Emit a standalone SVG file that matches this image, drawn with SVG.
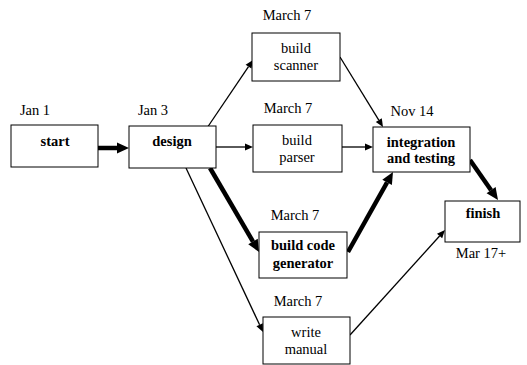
<svg xmlns="http://www.w3.org/2000/svg" width="527" height="365" viewBox="0 0 527 365" font-family="Liberation Serif, Times New Roman, DejaVu Serif, serif">
<style>
text{font-size:14.5px;fill:#000;text-anchor:middle}
.b{font-weight:bold}
.box{fill:#fff;stroke:#000;stroke-width:1}
.thin{stroke:#000;stroke-width:1.3;fill:none;marker-end:url(#ah)}
.thick{stroke:#000;stroke-width:4.5;fill:none;marker-end:url(#ahb)}
</style>
<defs>
<marker id="ah" markerUnits="userSpaceOnUse" markerWidth="10" markerHeight="10" refX="0" refY="5" viewBox="0 0 10 10" orient="auto" overflow="visible"><path d="M0,1.5 L8,5 L0,8.5 z" fill="#000"/></marker>
<marker id="ahb" markerUnits="userSpaceOnUse" markerWidth="14" markerHeight="14" refX="0" refY="7" viewBox="0 0 14 14" orient="auto" overflow="visible"><path d="M0,1.5 L12,7 L0,12.5 z" fill="#000"/></marker>
</defs>
<rect width="527" height="365" fill="#fff"/>
<g id="connectors">
<line class="thick" x1="98" y1="148" x2="117" y2="148"/>
<line class="thick" x1="210" y1="168" x2="253" y2="241.6"/>
<line class="thick" x1="348" y1="252" x2="387.1" y2="182.4"/>
<line class="thick" x1="470" y1="160" x2="491.1" y2="190.2"/>
<line class="thin" x1="207" y1="128" x2="248.5" y2="66.6"/>
<line class="thin" x1="216" y1="147" x2="245" y2="147"/>
<line class="thin" x1="186" y1="168" x2="259.6" y2="324.8"/>
<line class="thin" x1="340" y1="57" x2="378.8" y2="120.2"/>
<line class="thin" x1="342" y1="147" x2="365" y2="147"/>
<line class="thin" x1="350" y1="335" x2="439.6" y2="236"/>
</g>
<g id="start">
<text x="35" y="115">Jan 1</text>
<rect class="box" x="11" y="125" width="87" height="42"/>
<text class="b" x="55" y="146">start</text>
</g>
<g id="design">
<text x="153" y="115">Jan 3</text>
<rect class="box" x="129" y="126" width="87" height="42"/>
<text class="b" x="172" y="146">design</text>
</g>
<g id="scanner">
<text x="287" y="20">March 7</text>
<rect class="box" x="252" y="33" width="88" height="48"/>
<text x="296" y="53">build</text>
<text x="296" y="70">scanner</text>
</g>
<g id="parser">
<text x="288" y="113">March 7</text>
<rect class="box" x="253" y="125" width="89" height="47"/>
<text x="297" y="145">build</text>
<text x="297" y="162">parser</text>
</g>
<g id="integration">
<text x="412" y="116">Nov 14</text>
<rect class="box" x="373" y="127" width="97" height="45"/>
<text class="b" x="421" y="147">integration</text>
<text class="b" x="421" y="163">and testing</text>
</g>
<g id="codegen">
<text x="295" y="220">March 7</text>
<rect class="box" x="259" y="232" width="88" height="46"/>
<text class="b" x="303" y="250">build code</text>
<text class="b" x="303" y="268">generator</text>
</g>
<g id="manual">
<text x="298" y="306">March 7</text>
<rect class="box" x="263" y="317" width="87" height="47"/>
<text x="306" y="337">write</text>
<text x="306" y="354">manual</text>
</g>
<g id="finish">
<rect class="box" x="445" y="201" width="75" height="41"/>
<text class="b" x="483" y="218">finish</text>
<text x="481" y="258">Mar 17+</text>
</g>
</svg>
